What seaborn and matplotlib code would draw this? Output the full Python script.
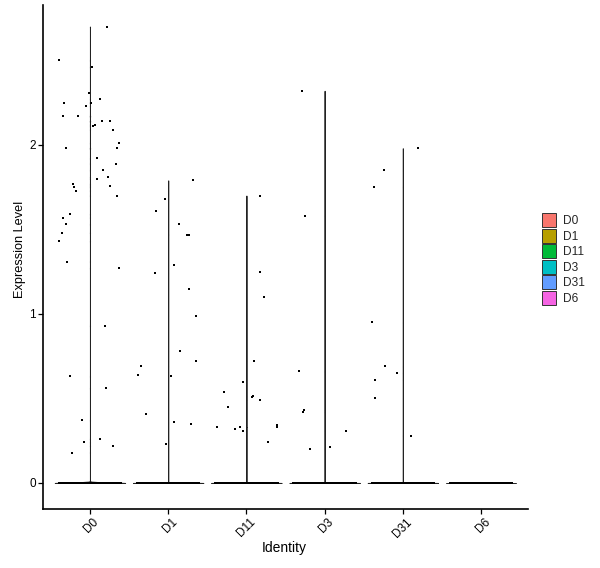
import matplotlib
matplotlib.use("Agg")

import matplotlib.pyplot as plt
import matplotlib.transforms as mtransforms
import seaborn as sns
import pandas as pd
import numpy as np

# Identity classes and ggplot-style hue colours
GROUPS = ["D0", "D1", "D11", "D3", "D31", "D6"]
COLORS = ["#F8766D", "#B79F00", "#00BA38", "#00BFC4", "#619CFF", "#F564E3"]

# number of cells with zero expression in every class
N_ZERO = [400, 400, 400, 400, 400, 400]

# non-zero expression values and their jitter offsets
d0_values = [2.70, 2.50, 2.46, 2.31, 2.25, 2.25, 2.27, 2.23, 2.17, 2.17, 2.11,
             2.12, 2.14, 2.14, 2.09, 2.01, 1.98, 1.98, 1.92, 1.89, 1.85, 1.81,
             1.80, 1.77, 1.75, 1.73, 1.76, 1.70, 1.59, 1.57, 1.53, 1.48, 1.43,
             1.31, 1.27, 0.93, 0.63, 0.56, 0.37, 0.24, 0.26, 0.22, 0.18]
d0_jitter = [0.22, -0.40, 0.03, -0.01, -0.33, 0.01, 0.13, -0.05, -0.34, -0.15,
             0.04, 0.07, 0.16, 0.25, 0.29, 0.37, 0.35, -0.31, 0.09, 0.33, 0.17,
             0.23, 0.09, -0.22, -0.20, -0.18, 0.25, 0.34, -0.25, -0.34, -0.30,
             -0.36, -0.40, -0.29, 0.37, 0.19, -0.25, 0.20, -0.10, -0.07, 0.13,
             0.29, -0.23]

d1_values = [1.79, 1.68, 1.61, 1.53, 1.47, 1.47, 1.29, 1.24, 1.15, 0.99, 0.78,
             0.72, 0.69, 0.64, 0.63, 0.41, 0.36, 0.35, 0.23]
d1_jitter = [0.32, -0.04, -0.16, 0.14, 0.24, 0.27, 0.07, -0.17, 0.27, 0.36,
             0.15, 0.36, -0.35, -0.39, 0.03, -0.28, 0.08, 0.29, -0.03]

d11_values = [1.70, 1.25, 1.10, 0.72, 0.60, 0.54, 0.51, 0.515, 0.49, 0.45, 0.34,
              0.33, 0.33, 0.32, 0.33, 0.31, 0.24]
d11_jitter = [0.17, 0.18, 0.22, 0.10, -0.04, -0.29, 0.07, 0.08, 0.17, -0.24,
              0.39, 0.39, -0.38, -0.15, -0.08, -0.04, 0.28]

d3_values = [2.32, 1.58, 0.66, 0.42, 0.43, 0.20, 0.21, 0.31]
d3_jitter = [-0.29, -0.25, -0.33, -0.28, -0.26, -0.19, 0.07, 0.27]

d31_values = [1.98, 1.85, 1.75, 0.95, 0.69, 0.65, 0.61, 0.50, 0.28]
d31_jitter = [0.19, -0.24, -0.37, -0.39, -0.23, -0.08, -0.35, -0.35, 0.11]

d6_values = []
d6_jitter = []

VALUES = [d0_values, d1_values, d11_values, d3_values, d31_values, d6_values]
JITTER = [d0_jitter, d1_jitter, d11_jitter, d3_jitter, d31_jitter, d6_jitter]

Y_TICKS = [0, 1, 2]

sns.set_theme(style="ticks")
plt.rcParams["font.family"] = ["Liberation Sans", "DejaVu Sans"]

# long table: zeros + non-zero values per identity
rows = []
for group, n_zero, values in zip(GROUPS, N_ZERO, VALUES):
    expr = list(np.zeros(n_zero)) + list(values)
    rows.append(pd.DataFrame({"identity": group, "expression": expr}))
data = pd.concat(rows, ignore_index=True)

fig = plt.figure(figsize=(6.0, 5.68), dpi=100)
ax = fig.add_axes([0.0717, 0.1039, 0.8083, 0.8873])

sns.violinplot(
    data=data,
    x="identity",
    y="expression",
    hue="identity",
    order=GROUPS,
    hue_order=GROUPS,
    palette=COLORS,
    saturation=1,
    cut=0,
    density_norm="width",
    width=0.9,
    inner=None,
    bw_adjust=0.02,
    gridsize=1000,
    linewidth=0.7,
    linecolor="#222222",
    legend=True,
    ax=ax,
)

# jittered cell points on top of the violins
for index, (n_zero, values, jitter) in enumerate(zip(N_ZERO, VALUES, JITTER)):
    zero_x = index + np.linspace(-0.4, 0.4, n_zero)
    ax.scatter(zero_x, np.zeros(n_zero), s=4.5, marker="s", color="black",
               linewidths=0, zorder=3)
    if values:
        ax.scatter(index + np.array(jitter), values, s=3.8, marker="s",
                   color="black", linewidths=0, zorder=3)

ax.set_xlim(-0.6, 5.6)
ax.set_ylim(-0.154, 2.828)
ax.set_yticks(Y_TICKS)
ax.set_yticklabels([str(t) for t in Y_TICKS])
ax.set_xlabel("Identity", fontsize=10, color="black")
ax.set_ylabel("Expression Level", fontsize=9.2, color="black")
ax.xaxis.set_label_coords(0.498, -0.064)
ax.yaxis.set_label_coords(-0.036, 0.514)

ax.tick_params(axis="both", labelsize=8.5, colors="black", length=3.6,
               width=0.9, pad=1.5)
shift = mtransforms.ScaledTranslation(2 / 72, 0, fig.dpi_scale_trans)
for label in ax.get_xticklabels():
    label.set_rotation(45)
    label.set_ha("right")
    label.set_rotation_mode("anchor")
    label.set_transform(label.get_transform() + shift)

sns.despine(ax=ax)
for side in ("left", "bottom"):
    ax.spines[side].set_color("black")
    ax.spines[side].set_linewidth(1.2)

sns.move_legend(
    ax,
    "center left",
    bbox_to_anchor=(1.029, 0.496),
    frameon=False,
    title=None,
    fontsize=8.6,
    handlelength=1.16,
    handleheight=1.41,
    labelspacing=0.13,
    handletextpad=0.6,
    borderaxespad=0,
    borderpad=0,
)
for patch in ax.get_legend().get_patches():
    patch.set_edgecolor("#333333")
    patch.set_linewidth(0.7)

plt.savefig("out.png", dpi=100)
plt.close(fig)
